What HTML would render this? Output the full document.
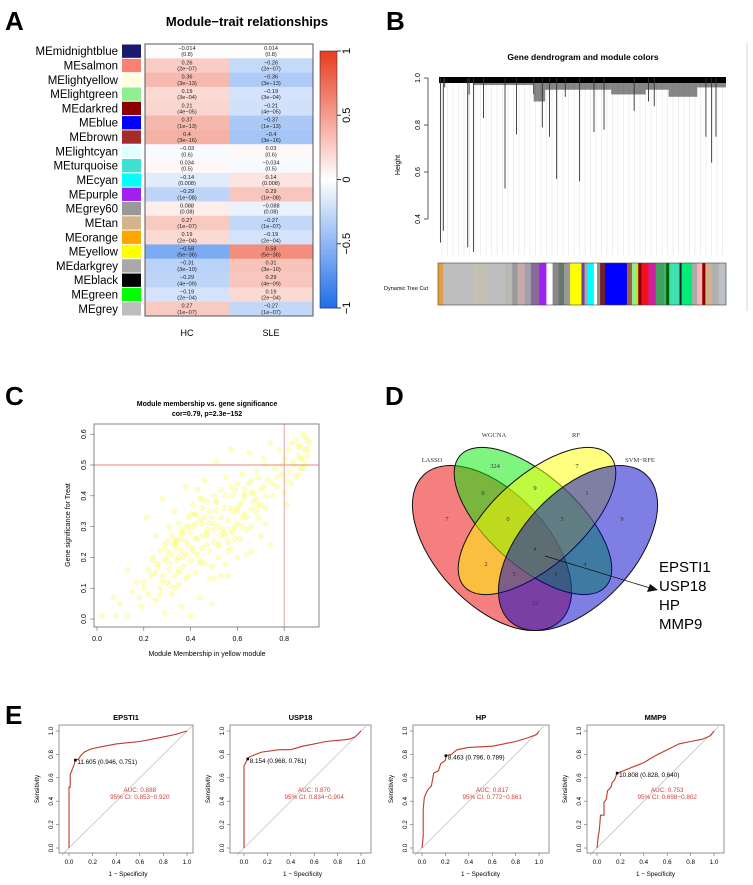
<!DOCTYPE html>
<html><head><meta charset="utf-8"><style>
html,body{margin:0;padding:0;background:#fff;}
svg{display:block;font-family:"Liberation Sans",sans-serif;}
</style></head><body>
<svg id="fig" width="753" height="885" viewBox="0 0 753 885" xmlns="http://www.w3.org/2000/svg">
<g id="pA">
<text x="5" y="30" font-size="26" font-weight="bold">A</text>
<text x="247" y="26" font-size="13" font-weight="bold" text-anchor="middle">Module−trait relationships</text>
<text x="187" y="336" font-size="9" text-anchor="middle">HC</text>
<text x="271" y="336" font-size="9" text-anchor="middle">SLE</text>
</g>
<g id="pB">
<text x="386" y="30" font-size="26" font-weight="bold">B</text>
<text x="583" y="60" font-size="8.5" font-weight="bold" text-anchor="middle">Gene dendrogram and module colors</text>
<text x="0" y="0" font-size="7" text-anchor="middle" transform="translate(400,165) rotate(-90)">Height</text>
<text x="384" y="290" font-size="5.5">Dynamic Tree Cut</text>
<line x1="747" y1="43" x2="747" y2="311" stroke="#ccc" stroke-width="0.8"/>
</g>
<g id="pC">
<text x="5" y="405" font-size="26" font-weight="bold">C</text>
<text x="207" y="406" font-size="7" font-weight="bold" text-anchor="middle">Module membership vs. gene significance</text>
<text x="207" y="416" font-size="7" font-weight="bold" text-anchor="middle">cor=0.79, p=2.3e−152</text>
<text x="0" y="0" font-size="7" text-anchor="middle" transform="translate(70,525) rotate(-90)">Gene significance for  Treat</text>
<text x="207" y="656" font-size="7" text-anchor="middle">Module Membership in yellow module</text>
</g>
<g id="pD">
<text x="385" y="405" font-size="26" font-weight="bold">D</text>
</g>
<g id="pE">
<text x="5" y="724" font-size="26" font-weight="bold">E</text>
</g>
</svg>
<script>
// ---------- Panel A data ----------
const modules = ["MEmidnightblue","MEsalmon","MElightyellow","MElightgreen","MEdarkred","MEblue","MEbrown","MElightcyan","MEturquoise","MEcyan","MEpurple","MEgrey60","MEtan","MEorange","MEyellow","MEdarkgrey","MEblack","MEgreen","MEgrey"];
const moduleColors = ["#191970","#fa8072","#ffffe0","#90ee90","#8b0000","#0000ff","#a52a2a","#e0ffff","#40e0d0","#00ffff","#a020f0","#999999","#d2b48c","#ffa500","#ffff00","#a9a9a9","#000000","#00ff00","#bebebe"];
const traits = ["HC","SLE"];
const hcCor = [-0.014,0.26,0.36,0.19,0.21,0.37,0.4,-0.03,0.034,-0.14,-0.29,0.088,0.27,0.19,-0.58,-0.31,-0.29,-0.19,0.27];
const sleCor = [0.014,-0.26,-0.36,-0.19,-0.21,-0.37,-0.4,0.03,-0.034,0.14,0.29,-0.088,-0.27,-0.19,0.58,0.31,0.29,0.19,-0.27];
const pVals = ["0.8","2e−07","3e−13","3e−04","4e−05","1e−13","3e−16","0.6","0.5","0.008","1e−08","0.08","1e−07","2e−04","5e−36","3e−10","4e−09","2e−04","1e−07"];
const corLabels = ["−0.014","0.26","0.36","0.19","0.21","0.37","0.4","−0.03","0.034","−0.14","−0.29","0.088","0.27","0.19","−0.58","−0.31","−0.29","−0.19","0.27"];
const sleLabels = ["0.014","−0.26","−0.36","−0.19","−0.21","−0.37","−0.4","0.03","−0.034","0.14","0.29","−0.088","−0.27","−0.19","0.58","0.31","0.29","0.19","−0.27"];
const cbTicks = [1,0.5,0,-0.5,-1];
const cbTickLabels = ["1","0.5","0","−0.5","−1"];

// ---------- Panel B data ----------
const dendroDrops = [[0.005,0.30],[0.015,0.35],[0.10,0.28],[0.12,0.26],[0.105,0.93],[0.155,0.83],[0.23,0.53],[0.27,0.76],[0.36,0.79],[0.385,0.75],[0.41,0.57],[0.49,0.56],[0.54,0.77],[0.575,0.78],[0.68,0.86],[0.75,0.88],[0.73,0.9],[0.93,0.75],[0.95,0.64],[0.965,0.75],[0.02,0.96],[0.33,0.93],[0.44,0.92]];
const bandStart = [0.0,0.12,0.33,0.37,0.48,0.6,0.66,0.72,0.8,0.9];
const bandEnd   = [0.12,0.33,0.37,0.48,0.6,0.66,0.72,0.8,0.9,1.0];
const bandLow   = [0.98,0.97,0.90,0.95,0.95,0.93,0.93,0.95,0.92,0.96];
const moduleBarColors = ["#e0a040","#bebebe","#c4c0b4","#bebebe","#b8b8b0","#999999","#c8a8a8","#a0a0b0","#8a6a9a","#a020f0","#ffffff","#888888","#667766","#999999","#ffff00","#6a40a0","#aaaaaa","#00ffff","#ffffff","#8a9a7a","#702030","#0000ff","#a06040","#90ee90","#c0e040","#8b0000","#ee1122","#d020a0","#40a060","#3cb371","#006400","#40e0b0","#222222","#00ee76","#aaaaaa","#ffb0b0","#8b0000","#d2b48c","#b0b0b0","#bec0c8"];
const moduleBarWidths = [5,30,12,18,7,5,7,6,8,7,6,6,5,6,11,3,3,6,3,3,5,21,5,3,3,3,7,7,8,2,3,10,2,10,5,5,3,6,7,7];

// ---------- Panel C data ----------
const mmVals = [0.02,0.07,0.08,0.1,0.13,0.13,0.15,0.17,0.19,0.2,0.21,0.22,0.23,0.24,0.25,0.25,0.26,0.27,0.27,0.28,0.28,0.29,0.29,0.3,0.3,0.31,0.31,0.32,0.32,0.33,0.33,0.34,0.34,0.35,0.35,0.36,0.36,0.37,0.37,0.38,0.38,0.39,0.39,0.4,0.4,0.41,0.41,0.42,0.42,0.43,0.43,0.44,0.44,0.45,0.45,0.46,0.46,0.47,0.47,0.48,0.48,0.49,0.49,0.5,0.5,0.51,0.51,0.52,0.52,0.53,0.53,0.54,0.55,0.55,0.56,0.56,0.57,0.57,0.58,0.59,0.6,0.6,0.61,0.62,0.62,0.63,0.64,0.64,0.65,0.66,0.66,0.67,0.68,0.69,0.7,0.7,0.71,0.72,0.73,0.74,0.74,0.75,0.76,0.77,0.78,0.79,0.8,0.8,0.81,0.82,0.82,0.83,0.84,0.85,0.85,0.86,0.87,0.87,0.88,0.88,0.89,0.89,0.9,0.9,0.91,0.86,0.83,0.6,0.66,0.5,0.55,0.35,0.4,0.45,0.3,0.25,0.2,0.62,0.68,0.72,0.58,0.33,0.38,0.42,0.47,0.52,0.57,0.63,0.36,0.44,
 0.26,0.28,0.29,0.31,0.32,0.33,0.34,0.35,0.36,0.37,0.38,0.39,0.4,0.41,0.42,0.43,0.44,0.45,0.46,0.47,0.48,0.49,0.5,0.51,0.52,0.53,0.54,0.55,0.56,0.57,0.58,0.59,0.6,0.61,0.62,0.63,0.64,0.65,0.66,0.67,0.68,0.69,0.7,0.71,0.72,0.75,0.77,0.79,0.81,0.84,0.86,0.88,0.9,0.89,0.87,0.3,0.33,0.36,0.39,0.42,0.45,0.48,0.51,0.54,0.57,0.6,0.63,0.66,0.69,0.72,0.35,0.38,0.41,0.44,0.47,0.5,0.53,0.56,0.59,0.27,0.22,0.18,0.24,0.31,0.34];
const gsVals = [0.01,0.07,0.01,0.05,0.01,0.16,0.09,0.12,0.04,0.1,0.33,0.08,0.14,0.2,0.06,0.27,0.17,0.1,0.22,0.14,0.39,0.02,0.19,0.12,0.25,0.16,0.3,0.08,0.21,0.14,0.35,0.19,0.26,0.11,0.31,0.22,0.04,0.17,0.28,0.13,0.43,0.24,0.33,0.19,0.01,0.3,0.37,0.15,0.26,0.42,0.21,0.32,0.07,0.27,0.36,0.18,0.45,0.29,0.38,0.22,0.13,0.33,0.05,0.4,0.25,0.35,0.51,0.2,0.3,0.42,0.14,0.36,0.27,0.46,0.32,0.14,0.55,0.23,0.4,0.3,0.44,0.35,0.26,0.47,0.38,0.42,0.21,0.33,0.54,0.45,0.3,0.38,0.48,0.33,0.42,0.27,0.52,0.36,0.45,0.57,0.24,0.4,0.49,0.43,0.55,0.47,0.41,0.52,0.37,0.48,0.55,0.44,0.51,0.58,0.46,0.53,0.49,0.56,0.52,0.6,0.55,0.5,0.58,0.53,0.57,0.47,0.57,0.2,0.22,0.13,0.18,0.2,0.28,0.31,0.2,0.15,0.12,0.3,0.35,0.31,0.35,0.24,0.3,0.34,0.28,0.24,0.29,0.4,0.26,0.18,
 0.18,0.12,0.24,0.18,0.27,0.1,0.23,0.16,0.29,0.2,0.25,0.14,0.34,0.22,0.31,0.26,0.39,0.23,0.33,0.27,0.35,0.17,0.29,0.38,0.24,0.33,0.29,0.4,0.25,0.36,0.28,0.42,0.31,0.37,0.33,0.4,0.29,0.44,0.36,0.41,0.39,0.46,0.37,0.43,0.4,0.44,0.46,0.5,0.45,0.5,0.56,0.49,0.55,0.59,0.52,0.22,0.25,0.28,0.3,0.34,0.39,0.31,0.38,0.28,0.43,0.36,0.34,0.41,0.37,0.5,0.15,0.21,0.23,0.19,0.24,0.31,0.27,0.22,0.26,0.08,0.16,0.07,0.19,0.11,0.25];
const cXTicks = [0,0.2,0.4,0.6,0.8];
const cYTicks = [0,0.1,0.2,0.3,0.4,0.5,0.6];

// ---------- Panel D data ----------
const vennSets = ["LASSO","WGCNA","RF","SVM−RFE"];
const vennCounts = ["324","7","0","9","1","7","0","3","9","4","2","4","5","4","12"];
const geneNames = ["EPSTI1","USP18","HP","MMP9"];

// ---------- Panel E data ----------
const rocGenes = ["EPSTI1","USP18","HP","MMP9"];
const rocFpr = [
 [0,0,0.01,0.01,0.02,0.03,0.04,0.054,0.08,0.1,0.13,0.17,0.2,0.3,0.4,0.5,0.6,0.7,0.8,0.9,1],
 [0,0,0.01,0.02,0.032,0.05,0.1,0.15,0.3,0.4,0.5,0.6,0.7,0.8,0.9,0.95,1],
 [0,0.01,0.01,0.02,0.04,0.06,0.08,0.1,0.14,0.16,0.2,0.204,0.25,0.3,0.4,0.6,0.7,0.8,0.9,0.98,1],
 [0,0.01,0.02,0.03,0.06,0.06,0.08,0.09,0.12,0.13,0.15,0.172,0.2,0.3,0.4,0.5,0.6,0.7,0.8,0.9,0.97,1]];
const rocTpr = [
 [0,0.52,0.52,0.63,0.65,0.68,0.70,0.751,0.76,0.79,0.82,0.84,0.85,0.87,0.89,0.90,0.91,0.93,0.95,0.97,1],
 [0,0.70,0.72,0.74,0.761,0.78,0.80,0.82,0.84,0.84,0.87,0.89,0.91,0.92,0.93,0.95,1],
 [0,0.1,0.33,0.43,0.48,0.51,0.53,0.64,0.66,0.72,0.75,0.789,0.8,0.84,0.86,0.87,0.89,0.91,0.94,0.97,1],
 [0,0.1,0.15,0.28,0.28,0.39,0.42,0.49,0.52,0.56,0.58,0.64,0.65,0.69,0.73,0.79,0.84,0.89,0.91,0.93,0.96,1]];
const cutFpr = [0.054,0.032,0.204,0.172];
const cutTpr = [0.751,0.761,0.789,0.640];
const cutLabels = ["11.605 (0.946, 0.751)","8.154 (0.968, 0.761)","8.463 (0.796, 0.789)","10.808 (0.828, 0.640)"];
const aucLabels = ["AUC: 0.888","AUC: 0.870","AUC: 0.817","AUC: 0.753"];
const ciLabels = ["95% CI: 0.853−0.920","95% CI: 0.834−0.904","95% CI: 0.772−0.861","95% CI: 0.698−0.802"];
const rocTicks = [0,0.2,0.4,0.6,0.8,1];
const rocTickLabels = ["0.0","0.2","0.4","0.6","0.8","1.0"];

const NS="http://www.w3.org/2000/svg";
function mk(parent,tag,attrs,text){const e=document.createElementNS(NS,tag);for(const k in attrs)e.setAttribute(k,attrs[k]);if(text!==undefined)e.textContent=text;parent.appendChild(e);return e;}

// ===== Panel A =====
(function(){
 const g=document.getElementById('pA');
 const x0=145,x1=313,y0=44,y1=316;
 const rh=(y1-y0)/modules.length, cw=(x1-x0)/2;
 function col(v){const t=Math.min(1,Math.abs(v));
  if(v>=0){return `rgb(${Math.round(255-t*(255-232))},${Math.round(255-t*(255-60))},${Math.round(255-t*(255-30))})`;}
  return `rgb(${Math.round(255-t*(255-30))},${Math.round(255-t*(255-110))},${Math.round(255-t*(255-232))})`;}
 const ry=i=>y0+i*rh;
 modules.forEach((m,i)=>{
  const t=mk(g,'text',{x:118,y:ry(i)+rh/2+4,'font-size':11.5,'text-anchor':'end'},m);
  
  
  const sw=mk(g,'rect',{x:122,y:ry(i)+0.5,width:19,height:rh-1,fill:moduleColors[i]});
  
  
  [hcCor[i],sleCor[i]].forEach((v,j)=>{
   const r=mk(g,'rect',{x:x0+j*cw,y:ry(i),width:cw+0.3,height:rh+0.3,fill:col(v)});
   
   
   const cx=x0+j*cw+cw/2;
   const t1=mk(g,'text',{x:cx,y:ry(i)+6,'font-size':5.6,'text-anchor':'middle',fill:'#222'},j?sleLabels[i]:corLabels[i]);
   
   
   const t2=mk(g,'text',{x:cx,y:ry(i)+12.2,'font-size':5.6,'text-anchor':'middle',fill:'#222'},'('+pVals[i]+')');
   
   
  });
 });
 const fr=mk(g,'rect',{x:x0,y:y0,width:x1-x0,height:y1-y0,fill:'none',stroke:'#555','stroke-width':1});
 
 
 const cy0=51,cy1=308,cx=320,cwid=17;
 const cby=v=>cy0+(1-v)/2*(cy1-cy0);
 for(let k=0;k<100;k++){const v=1-2*k/100;
  const r=mk(g,'rect',{x:cx,y:cby(v),width:cwid,height:(cy1-cy0)/100+0.4,fill:col(v-0.01)});
  
  }
 const cbf=mk(g,'rect',{x:cx,y:cy0,width:cwid,height:cy1-cy0,fill:'none',stroke:'#333','stroke-width':0.6});
 
 
 cbTicks.forEach((v,i)=>{
  const l=mk(g,'line',{x1:cx+cwid,x2:cx+cwid+4,y1:cby(v),y2:cby(v),stroke:'#333'});
  
  
  const t=mk(g,'text',{x:0,y:0,'font-size':11,'text-anchor':'middle',transform:`translate(${cx+cwid+13},${cby(v)}) rotate(-90)`},cbTickLabels[i]);
  
  
 });
})();

// ===== Panel B =====
(function(){
 const g=document.getElementById('pB');
 const px0=439,px1=726;
 const hy=h=>78+(1-h)*235;
 const fx=f=>px0+f*(px1-px0);
 for(let x=442;x<=726;x+=5.5){const l=mk(g,'line',{x1:x,x2:x,y1:84,y2:255,stroke:'#e4e4e4','stroke-width':0.6});
  
  }
 bandStart.forEach((s,i)=>{
  const r=mk(g,'rect',{x:fx(s),y:hy(1),width:fx(bandEnd[i])-fx(s),height:hy(bandLow[i])-hy(1),fill:'#222','fill-opacity':0.55});
  
  
 });
 const top=mk(g,'rect',{x:px0,y:77,width:px1-px0,height:6,fill:'#000'});
 
 
 dendroDrops.forEach(d=>{
  const l=mk(g,'line',{x1:fx(d[0]),x2:fx(d[0]),y1:hy(1),y2:hy(d[1]),stroke:'#333','stroke-width':0.9});
  
  
 });
 const ax=mk(g,'line',{x1:428,x2:428,y1:hy(1),y2:hy(0.4),stroke:'#333','stroke-width':0.8});
 
 
 [1,0.8,0.6,0.4].forEach(v=>{
  const l=mk(g,'line',{x1:424,x2:428,y1:hy(v),y2:hy(v),stroke:'#333','stroke-width':0.8});
  
  
  const t=mk(g,'text',{x:0,y:0,'font-size':7,'text-anchor':'middle',transform:`translate(420,${hy(v)}) rotate(-90)`},v.toFixed(1));
  
  
 });
 let x=438;const tot=moduleBarWidths.reduce((a,b)=>a+b,0),sc=(726-438)/tot;
 moduleBarColors.forEach((c,i)=>{const w=moduleBarWidths[i]*sc;
  const r=mk(g,'rect',{x:x,y:263,width:w+0.3,height:42,fill:c});
  
  
  x+=w;});
 const f=mk(g,'rect',{x:438,y:263,width:288,height:42,fill:'none',stroke:'#444','stroke-width':0.6});
 
 
})();

// ===== Panel C =====
(function(){
 const g=document.getElementById('pC');
 const sx=v=>97+v*234, sy=v=>619-v*308;
 mmVals.forEach((m,i)=>{
  const c=mk(g,'circle',{cx:sx(m),cy:sy(gsVals[i]),r:2.6,fill:'#ffff40','fill-opacity':0.3,stroke:'#f0ee70','stroke-opacity':0.45,'stroke-width':0.5});
  
  
 });
 const h=mk(g,'line',{x1:94,x2:319,y1:sy(0.5),y2:sy(0.5),stroke:'#e06060','stroke-width':0.8});
 
 
 const v=mk(g,'line',{x1:sx(0.8),x2:sx(0.8),y1:424,y2:627,stroke:'#e09090','stroke-width':0.8});
 
 
 const fr=mk(g,'rect',{x:94,y:424,width:225,height:203,fill:'none',stroke:'#666','stroke-width':0.8});
 
 
 cXTicks.forEach(t=>{
  const l=mk(g,'line',{x1:sx(t),x2:sx(t),y1:627,y2:631,stroke:'#666','stroke-width':0.6});
  
  
  const tx=mk(g,'text',{x:sx(t),y:641,'font-size':7,'text-anchor':'middle'},t.toFixed(1));
  
  
 });
 cYTicks.forEach(t=>{
  const l=mk(g,'line',{x1:90,x2:94,y1:sy(t),y2:sy(t),stroke:'#666','stroke-width':0.6});
  
  
  const tx=mk(g,'text',{x:0,y:0,'font-size':7,'text-anchor':'middle',transform:`translate(86,${sy(t)}) rotate(-90)`},t.toFixed(1));
  
  
 });
})();

// ===== Panel D =====
(function(){
 const g=document.getElementById('pD');
 const ell=[[492,548,100,56,47,'rgba(235,0,0,0.5)'],[533,521,98,45,42,'rgba(0,235,0,0.5)'],[537,521,98,45,-42,'rgba(255,255,0,0.5)'],[578,548,100,56,-47,'rgba(0,0,200,0.5)']];
 ell.forEach((e,i)=>{
  const el=mk(g,'ellipse',{cx:e[0],cy:e[1],rx:e[2],ry:e[3],transform:`rotate(${e[4]} ${e[0]} ${e[1]})`,fill:e[5],stroke:'#111','stroke-width':1});
  
  
 });
 const lp=[[432,462],[494,437],[576,437],[640,462]];
 vennSets.forEach((s,i)=>{
  const t=mk(g,'text',{x:lp[i][0],y:lp[i][1],'font-size':6.5,'text-anchor':'middle','font-family':'Liberation Serif, serif',fill:'#333'},s);
  
  
 });
 const cp=[[495,468],[577,468],[483,495],[535,490],[587,495],[447,521],[508,521],[562,521],[622,521],[535,551],[486,566],[585,566],[514,576],[556,576],[535,605]];
 vennCounts.forEach((c,i)=>{
  const t=mk(g,'text',{x:cp[i][0],y:cp[i][1],'font-size':6.5,'text-anchor':'middle','font-family':'Liberation Serif, serif',fill:'#333'},c);
  
  
 });
 const ar=mk(g,'line',{x1:545,y1:556,x2:650,y2:588,stroke:'#111','stroke-width':0.8});
 
 
 const ah=mk(g,'polygon',{points:'658,590 647,592 650,584',fill:'#111'});
 
 
 geneNames.forEach((n,i)=>{
  const t=mk(g,'text',{x:659,y:572+i*19,'font-size':15},n);
  
  
 });
})();

// ===== Panel E =====
(function(){
 const g=document.getElementById('pE');
 const boxL=[59,230,413,587],boxR=[193,371,549,724],x0s=[69,244,422,597],x1s=[187,361,539,714];
 const ry=v=>848-v*117;
 rocGenes.forEach((gn,k)=>{
  const sx=v=>x0s[k]+v*(x1s[k]-x0s[k]);
  const sub=mk(g,'g',{});
  
  
  const t=mk(sub,'text',{x:(boxL[k]+boxR[k])/2,y:720,'font-size':7.5,'font-weight':'bold','text-anchor':'middle'},gn);
  
  
  const d=mk(sub,'line',{x1:sx(-0.06),y1:ry(-0.06),x2:sx(1.04),y2:ry(1.04),stroke:'#bbb','stroke-width':0.7});
  
  
  const pts=rocFpr[k].map((f,i)=>sx(f).toFixed(1)+','+ry(rocTpr[k][i]).toFixed(1)).join(' ');
  const pl=mk(sub,'polyline',{points:pts,fill:'none',stroke:'#c0392b','stroke-width':1.1});
  
  
  const cp=mk(sub,'rect',{x:sx(cutFpr[k])-1.3,y:ry(cutTpr[k])-1.3,width:2.6,height:2.6,fill:'#000'});
  
  
  const cl=mk(sub,'text',{x:sx(cutFpr[k])+2,y:ry(cutTpr[k])+4,'font-size':6.3},cutLabels[k]);
  
  
  const a=mk(sub,'text',{x:sx(0.6),y:ry(0.48),'font-size':6.3,'text-anchor':'middle',fill:'#d04040'},aucLabels[k]);
  
  
  const c=mk(sub,'text',{x:sx(0.6),y:ry(0.42),'font-size':6.3,'text-anchor':'middle',fill:'#d04040'},ciLabels[k]);
  
  
  const fr=mk(sub,'rect',{x:boxL[k],y:725,width:boxR[k]-boxL[k],height:128,fill:'none',stroke:'#666','stroke-width':0.7});
  
  
  rocTicks.forEach((v,i)=>{
   const l=mk(sub,'line',{x1:sx(v),x2:sx(v),y1:853,y2:856,stroke:'#666','stroke-width':0.6});
   
   
   const tx=mk(sub,'text',{x:sx(v),y:864,'font-size':6.3,'text-anchor':'middle'},rocTickLabels[i]);
   
   
   const l2=mk(sub,'line',{x1:boxL[k]-3,x2:boxL[k],y1:ry(v),y2:ry(v),stroke:'#666','stroke-width':0.6});
   
   
   const ty=mk(sub,'text',{x:0,y:0,'font-size':6.3,'text-anchor':'middle',transform:`translate(${boxL[k]-6},${ry(v)}) rotate(-90)`},rocTickLabels[i]);
   
   
  });
  const xl=mk(sub,'text',{x:(x0s[k]+x1s[k])/2,y:876,'font-size':6.3,'text-anchor':'middle'},'1 − Specificity');
  
  
  const yl=mk(sub,'text',{x:0,y:0,'font-size':6.3,'text-anchor':'middle',transform:`translate(${boxL[k]-20},789) rotate(-90)`},'Sensitivity');
  
  
 });
})();
</script>
</body></html>
